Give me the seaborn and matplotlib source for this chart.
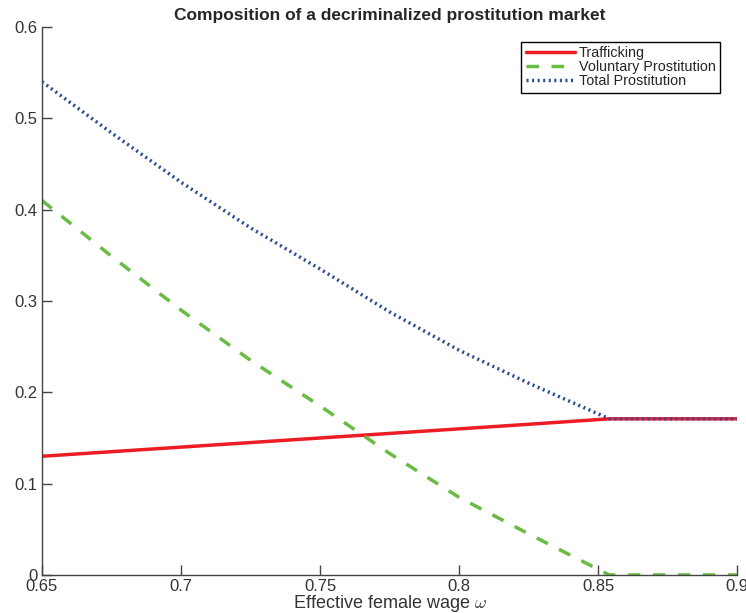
import numpy as np
import pandas as pd
import seaborn as sns
from matplotlib import pyplot as plt

# values
wage = [0.65, 0.675, 0.70, 0.725, 0.75, 0.775, 0.80, 0.825, 0.854, 0.9]
trafficking = [0.130, 0.135, 0.140, 0.145, 0.150, 0.155, 0.160, 0.165, 0.171, 0.171]
voluntary = [0.410, 0.349, 0.290, 0.235, 0.185, 0.133, 0.085, 0.045, 0.0, 0.0]
total = [0.540, 0.484, 0.430, 0.380, 0.335, 0.288, 0.246, 0.210, 0.171, 0.171]

df = pd.DataFrame({'wage': wage, 'Trafficking': trafficking,
                   'Voluntary Prostitution': voluntary, 'Total Prostitution': total})

sns.set_style("ticks")
plt.rcParams['font.family'] = ['Liberation Sans', 'DejaVu Sans']
plt.rcParams['mathtext.fontset'] = 'cm'

fig = plt.figure(figsize=(7.46, 6.13), dpi=100)
ax = fig.add_axes([0.0563, 0.062, 0.932, 0.894])

sns.lineplot(data=df, x='wage', y='Trafficking', ax=ax, color='#ec1c24',
             linewidth=2.5, label='Trafficking')
sns.lineplot(data=df, x='wage', y='Voluntary Prostitution', ax=ax, color='#66bd3f',
             linewidth=2.5, linestyle=(0, (3.6, 3.6)), label='Voluntary Prostitution')
sns.lineplot(data=df, x='wage', y='Total Prostitution', ax=ax, color='#2d4da3',
             linewidth=2.5, linestyle=(0, (0.6, 1.0)), label='Total Prostitution')

ax.set_xlim(0.65, 0.9)
ax.set_ylim(0, 0.6)
ax.set_xticks([0.65, 0.7, 0.75, 0.8, 0.85, 0.9])
ax.set_xticklabels(['0.65', '0.7', '0.75', '0.8', '0.85', '0.9'])
ax.set_yticks([0, 0.1, 0.2, 0.3, 0.4, 0.5, 0.6])
ax.set_yticklabels(['0', '0.1', '0.2', '0.3', '0.4', '0.5', '0.6'])
ax.tick_params(direction='in', length=7, width=1, colors='#444444', labelsize=12,
               labelcolor='#333333', pad=3)
for s in ['top', 'right']:
    ax.spines[s].set_visible(False)
for s in ['left', 'bottom']:
    ax.spines[s].set_color('#444444')
    ax.spines[s].set_linewidth(1)

ax.set_title('Composition of a decriminalized prostitution market', fontsize=12.5,
             fontweight='bold', pad=5)
ax.set_xlabel(r'Effective female wage $\omega$', fontsize=13, color='#333333', labelpad=-1)
ax.set_ylabel('')

leg = ax.legend(loc='upper right', bbox_to_anchor=(0.9755, 0.9726), borderaxespad=0,
                fontsize=10.4, handlelength=3.4, handletextpad=0.3, labelspacing=0.0,
                borderpad=0.3, fancybox=False, framealpha=1, edgecolor='black')
leg.get_frame().set_linewidth(1.0)

plt.savefig('out.png', dpi=100)
